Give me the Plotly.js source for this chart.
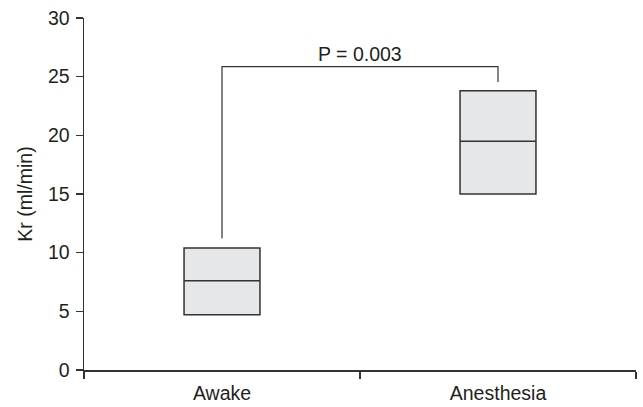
<!DOCTYPE html>
<html>
<head>
<meta charset="utf-8">
<script src="https://cdn.plot.ly/plotly-3.0.1.min.js"></script>
<style>html,body{margin:0;padding:0;background:#fff;}#chart{width:643px;height:407px;}</style>
</head>
<body>
<div id="chart"></div>
<script>
// Data
const categories = ['Awake', 'Anesthesia'];
const q1Values = [4.7, 15.0];
const medianValues = [7.6, 19.5];
const q3Values = [10.4, 23.8];
const bracketX = ['Awake', 'Awake', 'Anesthesia', 'Anesthesia'];
const bracketY = [11.2, 25.85, 25.85, 24.55];
const pValueLabel = 'P = 0.003';
const yTickValues = [0, 5, 10, 15, 20, 25, 30];
const yTitle = 'Kr (ml/min)';

const ink = '#333333';
const textSize = 19.5;
const font = {family: '"Liberation Sans", Arial, sans-serif', size: textSize, color: '#231f20'};

const boxTrace = {
  type: 'box',
  x: categories,
  q1: q1Values,
  median: medianValues,
  q3: q3Values,
  lowerfence: q1Values,
  upperfence: q3Values,
  width: 0.275,
  whiskerwidth: 0,
  fillcolor: '#e6e7e8',
  line: {color: ink, width: 1.5},
  boxpoints: false,
  hoverinfo: 'skip',
  showlegend: false
};

const bracketTrace = {
  type: 'scatter',
  mode: 'lines',
  x: bracketX,
  y: bracketY,
  line: {color: ink, width: 1.2},
  hoverinfo: 'skip',
  showlegend: false
};

const layout = {
  width: 643,
  height: 407,
  margin: {l: 84, r: 7, t: 18, b: 37},
  paper_bgcolor: '#ffffff',
  plot_bgcolor: '#ffffff',
  font: font,
  showlegend: false,
  xaxis: {
    type: 'category',
    categoryarray: categories,
    range: [-0.5, 1.5],
    tickson: 'boundaries',
    ticks: 'outside',
    ticklen: 7,
    tickwidth: 1.5,
    tickcolor: ink,
    ticklabelstandoff: 5,
    showline: true,
    linecolor: ink,
    linewidth: 1.5,
    showgrid: false,
    zeroline: false,
    tickfont: {size: textSize},
    fixedrange: true
  },
  yaxis: {
    range: [0, 30],
    tickvals: yTickValues,
    ticktext: yTickValues.map(String),
    ticks: 'outside',
    ticklen: 7,
    tickwidth: 1.5,
    tickcolor: ink,
    ticklabelstandoff: 2,
    showline: true,
    linecolor: ink,
    linewidth: 1.5,
    showgrid: false,
    zeroline: false,
    tickfont: {size: textSize},
    title: {text: yTitle, font: {size: textSize}, standoff: 10},
    fixedrange: true
  },
  annotations: [{
    x: 0.5,
    y: bracketY[1],
    xref: 'x',
    yref: 'y',
    text: pValueLabel,
    showarrow: false,
    xanchor: 'center',
    yanchor: 'bottom',
    yshift: 0,
    font: {size: textSize}
  }]
};

Plotly.newPlot('chart', [boxTrace, bracketTrace], layout, {displayModeBar: false, staticPlot: true});
</script>
</body>
</html>
